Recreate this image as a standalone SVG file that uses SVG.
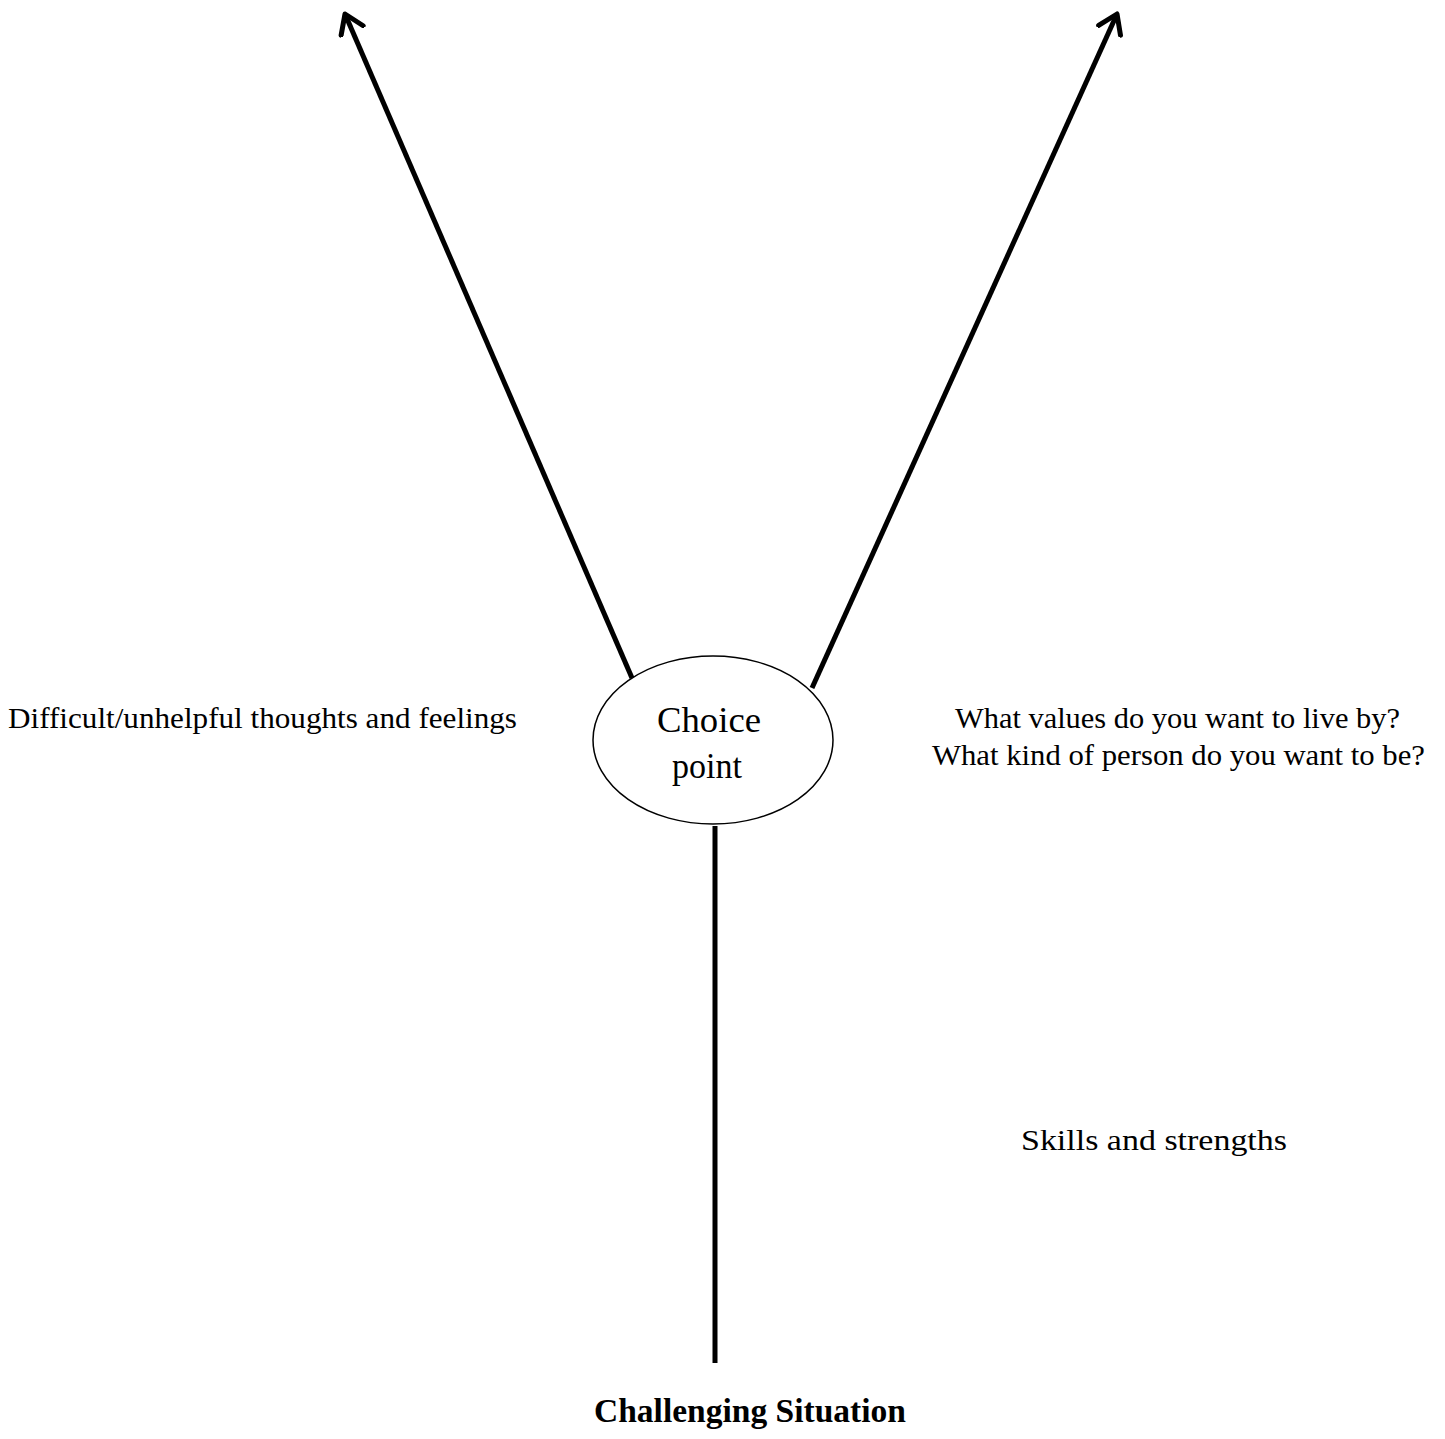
<svg xmlns="http://www.w3.org/2000/svg" width="1445" height="1439" viewBox="0 0 1445 1439">
<defs>
<style>
.t{font-family:"Liberation Serif","DejaVu Serif",serif;fill:#000}
.c{stroke:#000;stroke-width:5;fill:none}
</style>
<marker id="ah" viewBox="-20 -15 23 30" markerWidth="23" markerHeight="30" refX="0" refY="0" orient="auto" markerUnits="userSpaceOnUse">
<path d="M-18,-12 L0,0 L-18,12" fill="none" stroke="#000" stroke-width="5" stroke-linecap="round" stroke-linejoin="round"/>
</marker>
</defs>
<rect width="1445" height="1439" fill="#fff"/>
<g id="connectors">
<line class="c" x1="632" y1="678" x2="345" y2="14" marker-end="url(#ah)"/>
<line class="c" x1="812" y1="688" x2="1117" y2="14" marker-end="url(#ah)"/>
<line class="c" x1="715" y1="826" x2="715" y2="1363" stroke-width="6"/>
</g>
<g id="choice-point">
<ellipse cx="713" cy="740" rx="120" ry="84" fill="#fff" stroke="#000" stroke-width="1.5"/>
<text class="t" x="709" y="732" font-size="36" text-anchor="middle" textLength="104" lengthAdjust="spacingAndGlyphs">Choice</text>
<text class="t" x="707" y="778" font-size="36" text-anchor="middle" textLength="70" lengthAdjust="spacingAndGlyphs">point</text>
</g>
<g id="difficult">
<text class="t" x="8" y="728" font-size="30" textLength="509" lengthAdjust="spacingAndGlyphs">Difficult/unhelpful thoughts and feelings</text>
</g>
<g id="values">
<text class="t" x="955" y="728" font-size="30" textLength="445" lengthAdjust="spacingAndGlyphs">What values do you want to live by?</text>
<text class="t" x="932" y="765" font-size="30" textLength="493" lengthAdjust="spacingAndGlyphs">What kind of person do you want to be?</text>
</g>
<g id="skills">
<text class="t" x="1021" y="1150" font-size="30" textLength="266" lengthAdjust="spacingAndGlyphs">Skills and strengths</text>
</g>
<g id="challenging">
<text class="t" x="594" y="1422" font-size="33" font-weight="bold" textLength="312" lengthAdjust="spacingAndGlyphs">Challenging Situation</text>
</g>
</svg>
